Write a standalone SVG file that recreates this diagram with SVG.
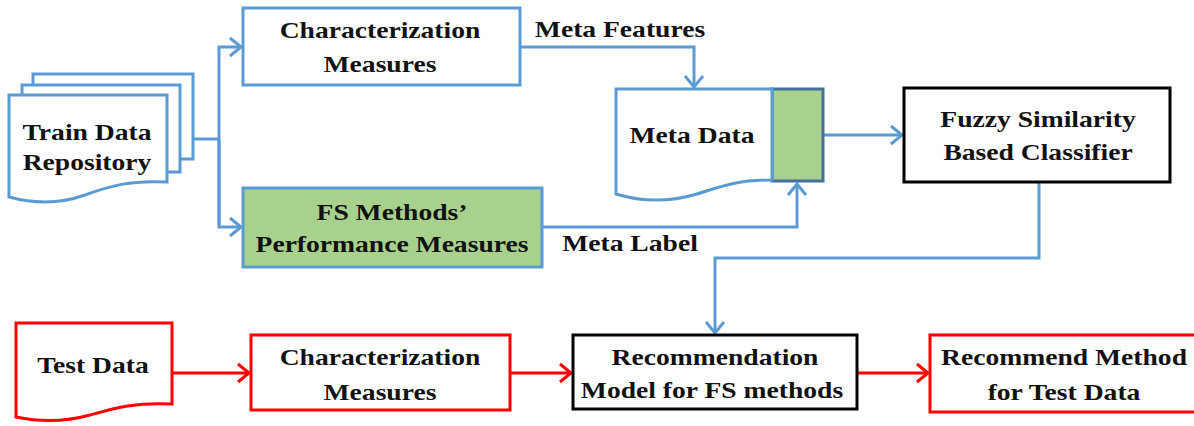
<svg xmlns="http://www.w3.org/2000/svg" width="1194" height="426" viewBox="0 0 1194 426">
<style>
.t{font-family:"Liberation Serif","Times New Roman",serif;font-weight:bold;font-size:23px;fill:#111;text-anchor:middle}
.b{fill:#fff;stroke:#5B9BD5;stroke-width:3}
.r{fill:#fff;stroke:#FF0000;stroke-width:3}
.k{fill:#fff;stroke:#000;stroke-width:3}
.g{fill:#A9D18E;stroke:#5B9BD5;stroke-width:3}
.cb{fill:none;stroke:#5B9BD5;stroke-width:3;marker-end:url(#ab)}
.cb0{fill:none;stroke:#5B9BD5;stroke-width:3}
.cr{fill:none;stroke:#FF0000;stroke-width:3;marker-end:url(#ar)}
</style>
<defs>
<marker id="ab" viewBox="0 0 16 22" markerWidth="16" markerHeight="22" refX="13" refY="11" orient="auto" markerUnits="userSpaceOnUse"><path d="M2,2 L13,11 L2,20" fill="none" stroke="#5B9BD5" stroke-width="3"/></marker>
<marker id="ar" viewBox="0 0 16 22" markerWidth="16" markerHeight="22" refX="13" refY="11" orient="auto" markerUnits="userSpaceOnUse"><path d="M2,2 L13,11 L2,20" fill="none" stroke="#FF0000" stroke-width="3"/></marker>
</defs>
<rect width="1194" height="426" fill="#fff"/>
<g id="connectors">
<path class="cb0" d="M193,139 H219"/>
<path class="cb" d="M219,225 V47 H241"/>
<path class="cb" d="M219,139 V227 H241"/>
<path class="cb" d="M521,47 H694 V87"/>
<path class="cb" d="M542,227 H797 V184"/>
<path class="cb" d="M823,135 H902"/>
<path class="cb" d="M1039,183 V258 H715 V333"/>
<path class="cr" d="M172,373 H249"/>
<path class="cr" d="M510,373 H571"/>
<path class="cr" d="M857,373 H928"/>
</g>
<g id="train-data">
<rect class="b" x="33" y="74" width="160" height="85"/>
<rect class="b" x="22" y="85" width="158" height="87"/>
<path class="b" d="M9,95 H167 V182 C130,180 110,186 85,195 C60,204 35,204 9,197 Z"/>
<text class="t" transform="matrix(1.2 0 0 1 87 0)" y="140">Train Data</text>
<text class="t" transform="matrix(1.2 0 0 1 87 0)" y="170">Repository</text>
</g>
<g id="char-top">
<rect class="b" x="243" y="8" width="277" height="77"/>
<text class="t" transform="matrix(1.2 0 0 1 380 0)" y="38">Characterization</text>
<text class="t" transform="matrix(1.2 0 0 1 380 0)" y="72">Measures</text>
</g>
<g id="fs-methods">
<rect class="g" x="243" y="188" width="299" height="79"/>
<text class="t" transform="matrix(1.2 0 0 1 392 0)" y="220">FS Methods’</text>
<text class="t" transform="matrix(1.2 0 0 1 392 0)" y="252">Performance Measures</text>
</g>
<g id="meta-data">
<rect x="772" y="89" width="51" height="92" fill="#A9D18E" stroke="#41719C" stroke-width="3"/>
<path class="b" d="M616,89 H772 V180 C735,180 720,187 697,194 C670,202 642,202 616,194 Z"/>
<text class="t" transform="matrix(1.2 0 0 1 692 0)" y="143">Meta Data</text>
</g>
<g id="fuzzy">
<rect class="k" x="904" y="88" width="266" height="94"/>
<text class="t" transform="matrix(1.2 0 0 1 1038 0)" y="127">Fuzzy Similarity</text>
<text class="t" transform="matrix(1.2 0 0 1 1038 0)" y="160">Based Classifier</text>
</g>
<g id="labels">
<text class="t" transform="matrix(1.2 0 0 1 620 0)" y="37">Meta Features</text>
<text class="t" transform="matrix(1.2 0 0 1 630 0)" y="251">Meta Label</text>
</g>
<g id="test-data">
<path class="r" d="M16,323 H172 V404 C135,402 115,408 90,415 C65,422 40,422 16,417 Z"/>
<text class="t" transform="matrix(1.2 0 0 1 93 0)" y="373">Test Data</text>
</g>
<g id="char-bottom">
<rect class="r" x="251" y="335" width="259" height="75"/>
<text class="t" transform="matrix(1.2 0 0 1 380 0)" y="365">Characterization</text>
<text class="t" transform="matrix(1.2 0 0 1 380 0)" y="400">Measures</text>
</g>
<g id="recommendation">
<rect class="k" x="573" y="335" width="284" height="74"/>
<text class="t" transform="matrix(1.2 0 0 1 715 0)" y="365">Recommendation</text>
<text class="t" transform="matrix(1.2 0 0 1 712 0)" y="398">Model for FS methods</text>
</g>
<g id="recommend-method">
<rect class="r" x="930" y="335" width="266" height="77"/>
<text class="t" transform="matrix(1.2 0 0 1 1064 0)" y="365">Recommend Method</text>
<text class="t" transform="matrix(1.2 0 0 1 1064 0)" y="400">for Test Data</text>
</g>
</svg>
